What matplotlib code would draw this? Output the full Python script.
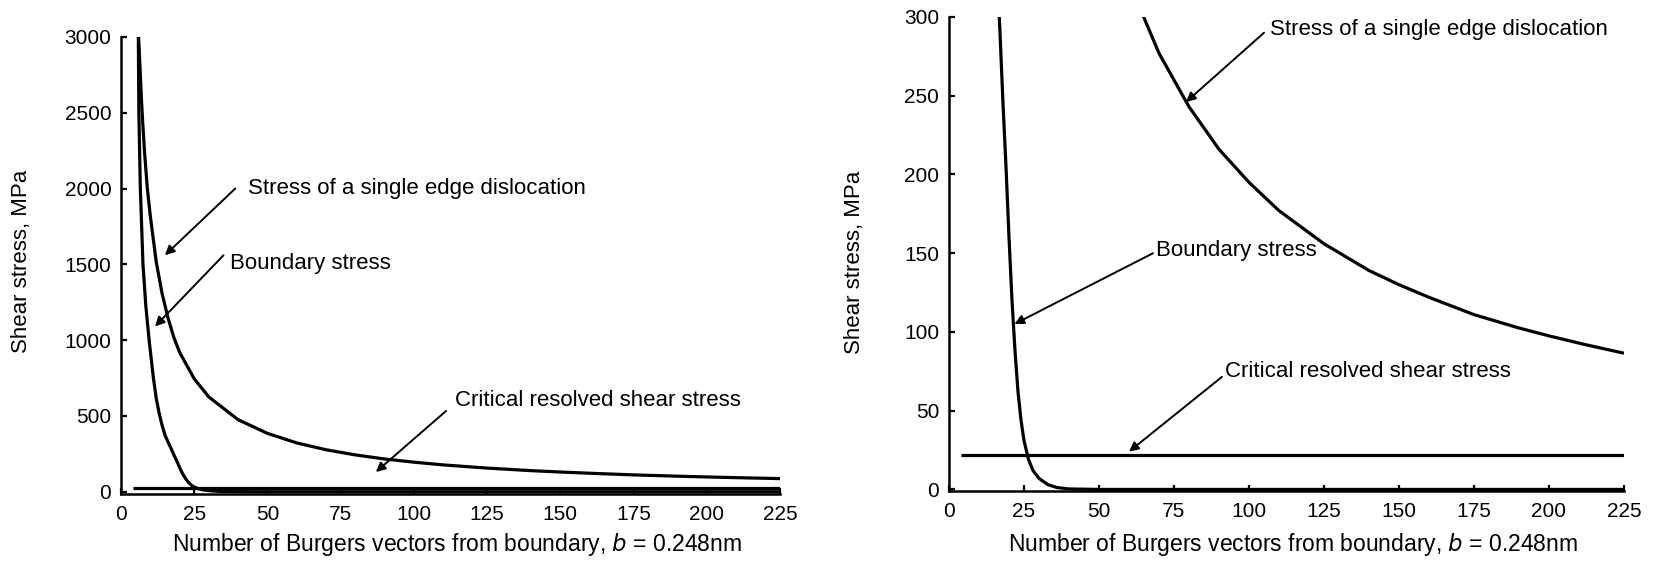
import matplotlib
matplotlib.use("Agg")
import matplotlib.pyplot as plt

plt.rcParams['font.family'] = ['Liberation Sans', 'DejaVu Sans']

# ---- data ----
x_single = [5.9, 7, 7.4, 8, 9, 10, 12, 14, 16, 18, 20, 25, 30, 40, 50, 60, 70, 80, 90,
            100, 110, 125, 140, 150, 160, 175, 190, 200, 212, 225]
tau_single = [3050, 2580, 2440, 2250, 2000, 1820, 1520, 1310, 1150, 1020, 920, 745, 625,
              475, 385, 322, 277, 243, 216, 195, 177, 156, 139, 130, 122, 111, 102.5,
              97.5, 92, 86.5]

x_boundary = [5.9, 6.1, 6.6, 7.5, 8.5, 9.6, 11, 12, 13, 14, 15, 16, 17, 18, 19, 20,
              21, 22, 23, 24, 25, 26.5, 28, 30, 33, 36, 40, 50, 225]
tau_boundary = [3050, 2500, 2000, 1500, 1220, 1000, 760, 620, 520, 440, 375, 330, 290,
                245, 205, 160, 120, 88, 62, 44, 31, 19, 12, 7, 3, 1.2, 0.3, 0, 0]

x_crss = [4, 225]
tau_crss = [22, 22]

x_ticks = [0, 25, 50, 75, 100, 125, 150, 175, 200, 225]
y_ticks_left = [0, 500, 1000, 1500, 2000, 2500, 3000]
y_ticks_right = [0, 50, 100, 150, 200, 250, 300]

xlabel = "Number of Burgers vectors from boundary, $\\mathit{b}$ = 0.248nm"
ylabel = "Shear stress, MPa"
lab_single = "Stress of a single edge dislocation"
lab_boundary = "Boundary stress"
lab_crss = "Critical resolved shear stress"

W, H = 1659, 563
fig = plt.figure(figsize=(W / 100, H / 100), dpi=100)

axL = fig.add_axes([121 / W, (H - 494) / H, 659 / W, (494 - 37) / H])
axR = fig.add_axes([949 / W, (H - 491) / H, 675 / W, (491 - 17) / H])

LW = 2.3
for ax in (axL, axR):
    ax.plot(x_single, tau_single, color='black', lw=LW, solid_capstyle='butt')
    ax.plot(x_boundary, tau_boundary, color='black', lw=LW, solid_capstyle='butt')
    ax.plot(x_crss, tau_crss, color='black', lw=LW, solid_capstyle='butt')
    for s in ('top', 'right'):
        ax.spines[s].set_visible(False)
    for s in ('left', 'bottom'):
        ax.spines[s].set_linewidth(1.8)
        ax.spines[s].set_color('black')
    ax.set_xlim(0, 225)
    ax.set_xticks(x_ticks)
    ax.tick_params(direction='in', length=4.5, width=1.6, labelsize=15)
    ax.tick_params(axis='y', pad=7)
    ax.tick_params(axis='x', pad=8)
    ax.set_xlabel(xlabel, fontsize=16.5)
    ax.set_ylabel(ylabel, fontsize=16)
    ax.xaxis.label.set_va('center')
    ax.yaxis.label.set_va('center')

axL.set_ylim(-15, 3000)
axL.set_yticks(y_ticks_left)
axR.set_ylim(-1, 300)
axR.set_yticks(y_ticks_right)

axL.xaxis.set_label_coords(0.51, (494 - 544) / 457)
axR.xaxis.set_label_coords(0.51, (491 - 544) / 474)
axL.yaxis.set_label_coords((22 - 121) / 659, 0.508)
axR.yaxis.set_label_coords((855 - 949) / 675, 0.483)

arrow_kw = dict(arrowstyle='-|>', lw=1.4, color='black', mutation_scale=14,
                shrinkA=0, shrinkB=0)
TFS = 16

# left panel annotations
axL.annotate('', xy=(15, 1560), xytext=(39, 2000), arrowprops=arrow_kw)
axL.text(43.5, 2000, lab_single, fontsize=TFS, ha='left', va='center')
axL.annotate('', xy=(11.6, 1090), xytext=(35, 1560), arrowprops=arrow_kw)
axL.text(37.2, 1507, lab_boundary, fontsize=TFS, ha='left', va='center')
axL.annotate('', xy=(87, 130), xytext=(111, 533), arrowprops=arrow_kw)
axL.text(114, 600, lab_crss, fontsize=TFS, ha='left', va='center')

# right panel annotations
axR.annotate('', xy=(79, 246), xytext=(105, 290), arrowprops=arrow_kw)
axR.text(107, 292, lab_single, fontsize=TFS, ha='left', va='center')
axR.annotate('', xy=(21.8, 105), xytext=(68, 150), arrowprops=arrow_kw)
axR.text(69, 152, lab_boundary, fontsize=TFS, ha='left', va='center')
axR.annotate('', xy=(60, 24), xytext=(91, 71.5), arrowprops=arrow_kw)
axR.text(92, 75, lab_crss, fontsize=TFS, ha='left', va='center')

fig.savefig('out.png', dpi=100, facecolor='white')
